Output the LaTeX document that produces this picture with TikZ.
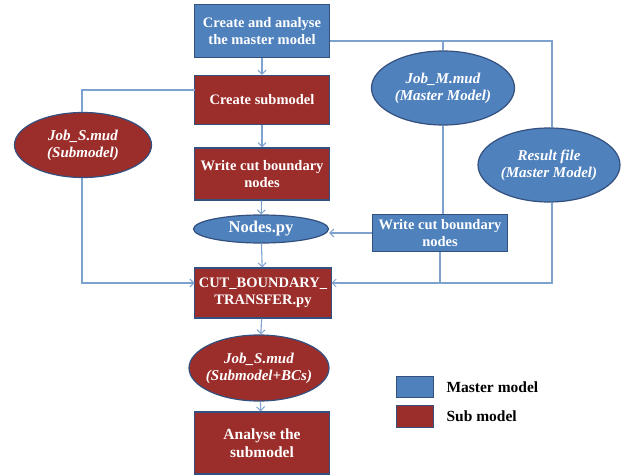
\documentclass[tikz,border=0pt]{standalone}
\usepackage{fontspec}
\setmainfont{Liberation Serif}
\usetikzlibrary{shapes.geometric,arrows.meta}
\definecolor{mblue}{HTML}{4F81BD}
\definecolor{sred}{HTML}{9B2D2A}
\definecolor{edge}{HTML}{34507E}
\definecolor{conn}{HTML}{7EA2CF}
\tikzset{
  base/.style={draw=edge,line width=1.2pt,text=white,font=\bfseries\fontsize{14.5}{17}\selectfont,align=center,inner sep=1pt},
  bbox/.style={base,rectangle,fill=mblue},
  rbox/.style={base,rectangle,fill=sred},
  bell/.style={base,ellipse,fill=mblue},
  rell/.style={base,ellipse,fill=sred},
  ital/.style={font=\bfseries\itshape\fontsize{15}{17}\selectfont},
  conline/.style={draw=conn,line width=1.1pt},
  arr/.style={conline,-{Straight Barb[length=4pt,width=8pt,line width=1pt]}},
  legtext/.style={anchor=west,font=\bfseries\fontsize{15.5}{17}\selectfont}
}
\begin{document}
\begin{tikzpicture}[x=1pt,y=-1pt]
\useasboundingbox[fill=white] (0,0) rectangle (621,476);
% nodes
\node[bbox,minimum width=135pt,minimum height=53pt] (top) at (262,31) {Create and analyse\\the master model};
\node[rbox,minimum width=135pt,minimum height=49pt] (csub) at (262,100) {Create submodel};
\node[rbox,minimum width=135pt,minimum height=52pt] (wcut) at (262,174) {Write cut boundary\\nodes};
\node[bell,font=\bfseries\fontsize{16.5}{18}\selectfont,minimum width=135pt,minimum height=28pt,inner ysep=-2pt] (nodes) at (261,229) {Nodes.py};
\node[rbox,minimum width=137pt,minimum height=50pt] (cut) at (263,293) {CUT\_BOUNDARY\_\\TRANSFER.py};
\node[rell,ital,minimum width=140pt,minimum height=66pt,inner xsep=-5pt] (jobsbc) at (259,368) {Job\_S.mud\\(Submodel+BCs)};
\node[rbox,font=\bfseries\fontsize{15.5}{18}\selectfont,minimum width=135pt,minimum height=62pt] (analyse) at (262,443) {Analyse the\\submodel};
\node[rell,ital,minimum width=137pt,minimum height=65pt] (jobs) at (83,145) {Job\_S.mud\\(Submodel)};
\node[bell,ital,minimum width=143pt,minimum height=74pt,inner xsep=-1pt] (jobm) at (443,88) {Job\_M.mud\\(Master Model)};
\node[bell,ital,minimum width=142pt,minimum height=74pt,inner xsep=-1pt] (result) at (549,165) {Result file\\(Master Model)};
\node[bbox,minimum width=135pt,minimum height=37pt] (wcutm) at (440,233) {Write cut boundary\\nodes};
% coordinates
\coordinate (tr) at (330,41);
\coordinate (trc) at (552,41);
\coordinate (jm) at (443,41);
\coordinate (jsup) at (82,90);
\coordinate (csw) at (195,90);
\coordinate (jsdown) at (82,283);
\coordinate (cutw) at (194.5,283);
\coordinate (rdown) at (552,283);
\coordinate (cute) at (331.5,283);
\coordinate (wm) at (440,283);
% connectors
\draw[arr] (top) -- (csub);
\draw[arr] (csub) -- (wcut);
\draw[arr] (wcut) -- (nodes);
\draw[arr] (nodes) -- (cut);
\draw[arr] (cut) -- (jobsbc);
\draw[arr] (jobsbc) -- (analyse);
\draw[conline] (tr) -- (trc) -- (result.north -| trc);
\draw[conline] (jm) -- (jobm.north);
\draw[conline] (jobs.north -| jsup) -- (jsup) -- (csw);
\draw[arr] (jobs.south -| jsdown) -- (jsdown) -- (cutw);
\draw[arr] (result.south -| rdown) -- (rdown) -- (cute);
\draw[conline] (wcutm.south) -- (wm);
\draw[conline] (jobm.south) -- (wcutm.north -| jobm.south);
\draw[arr] (wcutm.west) -- (nodes.east |- wcutm.west);
% legend
\node[draw=edge,line width=1pt,fill=mblue,minimum width=37pt,minimum height=21pt,inner sep=0pt] (lb) at (414.5,386.5) {};
\node[draw=edge,line width=1pt,fill=sred,minimum width=37pt,minimum height=22pt,inner sep=0pt] (lr) at (414.5,416) {};
\node[legtext] (lbt) at (443,387) {Master model};
\node[legtext] (lrt) at (443,416) {Sub model};
\end{tikzpicture}
\end{document}
